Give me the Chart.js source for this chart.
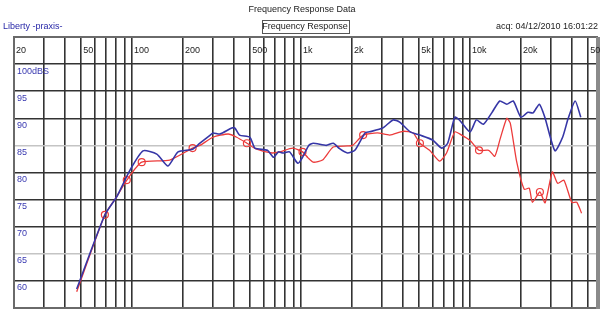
<!DOCTYPE html>
<html>
<head>
<meta charset="utf-8">
<script src="https://cdn.jsdelivr.net/npm/chart.js@4"></script>
<style>
  html, body { margin: 0; padding: 0; background: #fff; }
  #wrap { width: 605px; height: 311px; }
</style>
</head>
<body>
<div id="wrap"><canvas id="frCanvas" width="605" height="311"></canvas></div>
<script>
// frequency grid and labels
const gridFreqs = [20,30,40,50,60,70,80,90,100,200,300,400,500,600,700,800,900,
  1000,2000,3000,4000,5000,6000,7000,8000,9000,10000,20000,30000,40000,50000]
const freqLabels = [[20,'20'],[50,'50'],[100,'100'],[200,'200'],[500,'500'],[1000,'1k'],
  [2000,'2k'],[5000,'5k'],[10000,'10k'],[20000,'20k'],[50000,'50']]
const dbLabels = [[100,'100dBS'],[95,'95'],[90,'90'],[85,'85'],[80,'80'],[75,'75'],[70,'70'],[65,'65'],[60,'60']]

// blue trace
const blueFreq = [47,69,81,97,116,140,163,187,228,252,290,301,331,389,406,432,498,533,632,688,733,780,855,956,
  1020,1110,1180,1410,1550,1690,1880,2080,2390,2540,3040,3500,3830,4430,5050,6000,6790,7370,8130,8700,
  10000,10900,12000,13500,15000,16500,18000,20000,22000,23600,25700,27700,31800,35300,38100,41900,45200]
const blueDb = [58.5,72.2,75.5,80.4,84.0,83.4,81.2,83.8,84.3,85.4,86.9,87.3,87.1,88.2,88.2,86.9,86.5,84.5,84.1,82.8,83.8,83.6,83.8,81.7,
  82.8,85.0,85.4,85.0,85.4,84.4,83.6,84.1,87.3,87.5,88.2,89.7,89.3,87.5,86.9,86.0,84.5,85.4,90.2,89.6,
  87.5,89.7,88.9,91.1,93.2,92.6,93.2,90.2,91.1,91.0,92.6,90.2,84.0,86.5,90.0,93.2,90.2]

// red trace
const redFreq = [47,69,81,93,114,167,228,252,301,370,416,478,546,673,745,893,1020,1100,1180,1340,1550,1880,2020,
  2330,2830,3350,4010,4610,5050,5760,6600,7260,8130,8920,10000,11300,12900,14000,15100,16500,17300,18900,
  20900,22400,23400,25900,27800,30700,33000,35900,40000,42800,45700]
const redDb = [58.0,72.2,75.5,78.6,81.9,82.3,84.5,85.0,86.5,87.1,86.5,85.4,84.3,83.6,83.8,84.5,83.8,82.7,81.9,82.3,84.7,84.9,85.0,
  86.9,87.3,86.9,87.6,87.3,85.4,84.1,82.1,83.6,87.5,86.9,85.9,84.1,84.1,83.0,86.3,90.0,89.1,81.9,
  76.9,77.1,74.5,76.4,74.4,80.1,78.0,78.6,74.5,74.5,72.5]
const redMarkers = [69,93,114,228,478,1020,2330,5050,11300,25900]

const toPoints = (fs, ys) => fs.map((f, i) => ({ x: f, y: ys[i] }))

const textFont = '9px "Liberation Sans", Arial, sans-serif'

const overlay = {
  id: 'overlay',
  beforeDraw(chart) {
    const c = chart.ctx
    c.save()
    c.fillStyle = '#fff'
    c.fillRect(0, 0, chart.width, chart.height)
    c.restore()
  },
  afterDraw(chart) {
    const c = chart.ctx
    const a = chart.chartArea
    const xs = chart.scales.x, ys = chart.scales.y
    c.save()
    // frame
    c.strokeStyle = '#6a6a6a'
    c.lineWidth = 2
    c.strokeRect(a.left, a.top, a.right - a.left, a.bottom - a.top)
    c.fillStyle = '#8a8a8a'
    c.fillRect(a.right - 1, a.top, 4, a.bottom - a.top + 1)

    c.font = textFont
    c.textBaseline = 'middle'
    // frequency labels
    c.fillStyle = '#222'
    c.textAlign = 'left'
    freqLabels.forEach(([f, t]) => {
      c.fillText(t, xs.getPixelForValue(f) + 2, a.top + 14)
    })
    // level labels
    c.fillStyle = '#3838b0'
    dbLabels.forEach(([v, t]) => {
      c.fillText(t, a.left + 3, ys.getPixelForValue(v) + 7)
    })
    // header texts
    c.fillStyle = '#222'
    c.textAlign = 'center'
    c.fillText('Frequency Response Data', 302, 10)
    c.fillText('Frequency Response', 305, 27)
    c.strokeStyle = '#555'
    c.lineWidth = 1
    c.strokeRect(262.5, 20.5, 87, 13)
    c.textAlign = 'right'
    c.fillText('acq: 04/12/2010 16:01:22', 598, 27)
    c.textAlign = 'left'
    c.fillStyle = '#2828a8'
    c.fillText('Liberty -praxis-', 3, 27)
    c.restore()
  }
}

new Chart(document.getElementById('frCanvas'), {
  type: 'line',
  data: {
    datasets: [{
      label: 'blue',
      data: toPoints(blueFreq, blueDb),
      borderColor: '#3636a6',
      borderWidth: 1.6,
      pointRadius: 0,
      tension: 0.2
    }, {
      label: 'red',
      data: toPoints(redFreq, redDb),
      borderColor: '#ec3b3b',
      borderWidth: 1.3,
      backgroundColor: 'rgba(0,0,0,0)',
      pointBorderColor: '#ec3b3b',
      pointBorderWidth: 1.2,
      pointRadius: ctx => redMarkers.includes(redFreq[ctx.dataIndex]) ? 3.5 : 0,
      tension: 0.2
    }]
  },
  options: {
    responsive: false,
    animation: false,
    layout: { padding: { left: 14, right: 8, top: 37, bottom: 3 } },
    plugins: { legend: { display: false }, tooltip: { enabled: false }, title: { display: false } },
    scales: {
      x: {
        type: 'logarithmic',
        min: 20,
        max: 56400,
        afterBuildTicks: s => { s.ticks = gridFreqs.map(v => ({ value: v })) },
        ticks: { display: false },
        border: { display: false },
        grid: { color: '#333', lineWidth: 1.6, drawTicks: false }
      },
      y: {
        min: 55,
        max: 105,
        ticks: { display: false, stepSize: 5 },
        border: { display: false },
        grid: {
          color: ctx => (ctx.tick && (ctx.tick.value === 85 || ctx.tick.value === 65)) ? '#c4c4c4' : '#333',
          lineWidth: 1.6,
          drawTicks: false
        }
      }
    }
  },
  plugins: [overlay]
})
</script>
</body>
</html>
